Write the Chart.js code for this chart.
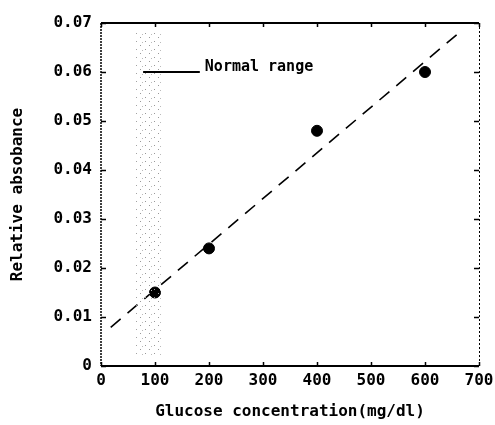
<!DOCTYPE html>
<html><head><meta charset="utf-8">
<script src="https://cdn.jsdelivr.net/npm/chart.js@4/dist/chart.umd.min.js"></script>
<style>html,body{margin:0;padding:0;background:#fff}#wrap{width:495px;height:425px}</style>
</head><body><div id="wrap"><canvas id="c" width="495" height="425"></canvas></div>
<script>
// ---- data ----
const glucose = [100, 200, 400, 600];
const absorbance = [0.015, 0.024, 0.048, 0.060];
const fitX = [18, 665];
const fitY = [0.0079, 0.0682];
const normalRangeX = [65, 115];
const normalRangeY = [0.002, 0.068];
const legendLineX = [78, 183];
const legendLineY = 0.06;
const legendLabel = 'Normal range';
const xTickLabels = ['0', '100', '200', '300', '400', '500', '600', '700'];
const yTickLabels = ['0', '0.01', '0.02', '0.03', '0.04', '0.05', '0.06', '0.07'];
const xTitle = 'Glucose concentration(mg/dl)';
const yTitle = 'Relative absobance';

const FONT = "'DejaVu Sans Mono', 'Liberation Mono', monospace";

// stipple pattern for the normal-range band
const pc = document.createElement('canvas');
pc.width = 9; pc.height = 8;
const px = pc.getContext('2d');
px.fillStyle = '#999';
px.fillRect(1, 1, 1, 1);
px.fillRect(5, 5, 1, 1);
px.fillStyle = '#bbb';
px.fillRect(7, 2, 1, 1);
const stipple = px.createPattern(pc, 'repeat');

const framePlugin = {
  id: 'frame',
  afterDatasetsDraw(chart) {
    const ctx = chart.ctx;
    const xs = chart.scales.x, ys = chart.scales.y;
    const {left, right, top, bottom} = chart.chartArea;
    ctx.save();
    ctx.strokeStyle = '#000';
    ctx.lineWidth = 2;
    ctx.beginPath();
    ctx.moveTo(left, top); ctx.lineTo(right, top);
    ctx.moveTo(left, bottom); ctx.lineTo(right, bottom);
    ctx.stroke();
    ctx.lineWidth = 1.5;
    ctx.setLineDash([2, 1]);
    ctx.beginPath();
    ctx.moveTo(left, top); ctx.lineTo(left, bottom);
    ctx.stroke();
    ctx.lineWidth = 1;
    ctx.setLineDash([2, 2]);
    ctx.beginPath();
    ctx.moveTo(right + 0.5, top); ctx.lineTo(right + 0.5, bottom);
    ctx.stroke();
    ctx.setLineDash([]);
    ctx.lineWidth = 1.5;
    ctx.beginPath();
    xs.ticks.forEach(t => {
      const p = Math.round(xs.getPixelForValue(t.value)) + 0.5;
      ctx.moveTo(p, top); ctx.lineTo(p, top + 4);
      ctx.moveTo(p, bottom); ctx.lineTo(p, bottom - 4);
    });
    ys.ticks.forEach(t => {
      const p = Math.round(ys.getPixelForValue(t.value)) + 0.5;
      ctx.moveTo(left, p); ctx.lineTo(left + 5, p);
      ctx.moveTo(right, p); ctx.lineTo(right - 5, p);
    });
    ctx.stroke();
    ctx.fillStyle = '#000';
    ctx.font = 'bold 15px ' + FONT;
    ctx.textAlign = 'left';
    ctx.textBaseline = 'alphabetic';
    ctx.fillText(legendLabel, xs.getPixelForValue(legendLineX[1]) + 5, ys.getPixelForValue(legendLineY) - 1);
    ctx.restore();
  }
};

new Chart(document.getElementById('c'), {
  type: 'scatter',
  data: {
    datasets: [
      {
        data: [{x: normalRangeX[0], y: normalRangeY[1]}, {x: normalRangeX[1], y: normalRangeY[1]}],
        showLine: true, borderWidth: 0, pointRadius: 0, fill: '+1', backgroundColor: stipple, borderColor: 'rgba(0,0,0,0)'
      },
      {
        data: [{x: normalRangeX[0], y: normalRangeY[0]}, {x: normalRangeX[1], y: normalRangeY[0]}],
        showLine: true, borderWidth: 0, pointRadius: 0, borderColor: 'rgba(0,0,0,0)'
      },
      {
        data: [{x: fitX[0], y: fitY[0]}, {x: fitX[1], y: fitY[1]}],
        showLine: true, borderColor: '#000', borderWidth: 1.6, borderDash: [13, 9], pointRadius: 0
      },
      {
        data: [{x: legendLineX[0], y: legendLineY}, {x: legendLineX[1], y: legendLineY}],
        showLine: true, borderColor: '#000', borderWidth: 2, pointRadius: 0
      },
      {
        data: glucose.map((g, i) => ({x: g, y: absorbance[i]})),
        pointRadius: 5.5, pointBackgroundColor: '#000', pointBorderColor: '#000', pointBorderWidth: 1
      }
    ]
  },
  options: {
    responsive: false,
    animation: false,
    devicePixelRatio: 1,
    layout: {padding: {left: 0, right: 16, top: 23, bottom: 0}},
    plugins: {legend: {display: false}, tooltip: {enabled: false}},
    scales: {
      x: {
        type: 'linear', min: 0, max: 700,
        grid: {display: false, drawTicks: false}, border: {display: false},
        ticks: {stepSize: 100, color: '#000', padding: 5, maxRotation: 0,
          font: {family: FONT, size: 16, weight: 'bold'},
          callback: (v, i) => xTickLabels[i]},
        title: {display: true, text: xTitle, color: '#000', padding: {top: 0, bottom: 4},
          font: {family: FONT, size: 16, weight: 'bold'}},
        afterFit: s => { s.height = 59; s.paddingRight = 0; s.paddingLeft = 0; }
      },
      y: {
        type: 'linear', min: 0, max: 0.07,
        grid: {display: false, drawTicks: false}, border: {display: false},
        ticks: {stepSize: 0.01, color: '#000', padding: 9,
          font: {family: FONT, size: 16, weight: 'bold'},
          callback: (v, i) => yTickLabels[i]},
        title: {display: true, text: yTitle, color: '#000', padding: {top: 8, bottom: 0},
          font: {family: FONT, size: 16, weight: 'bold'}},
        afterFit: s => { s.width = 101; s.paddingTop = 0; s.paddingBottom = 0; }
      }
    }
  },
  plugins: [framePlugin]
});
</script>
</body></html>
